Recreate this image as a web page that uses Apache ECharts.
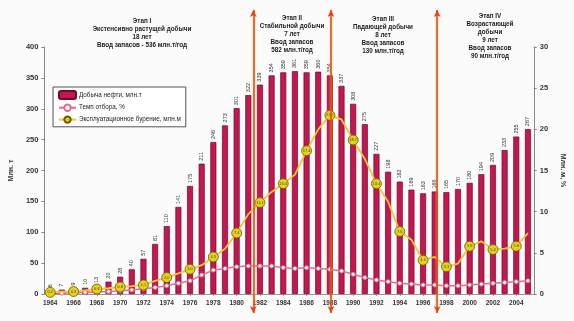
<!DOCTYPE html>
<html>
<head>
<meta charset="utf-8">
<script src="https://cdn.jsdelivr.net/npm/echarts@6/dist/echarts.min.js"></script>
<style>
html,body{margin:0;padding:0;background:#fbfbfb;}
#chart{width:574px;height:321px;}
</style>
</head>
<body>
<div id="chart"></div>
<script>
var years = [];
for (var y = 1964; y <= 2005; y++) years.push(String(y));

var oilProduction = [6, 7, 9, 10, 13, 20, 28, 40, 57, 81, 110, 141, 175, 211, 246, 273, 301, 322, 339, 354, 359, 361, 359, 360, 354, 337, 308, 275, 227, 198, 182, 169, 163, 166, 165, 170, 180, 194, 209, 233, 255, 267];
var extractionRate = [0.05, 0.1, 0.15, 0.2, 0.25, 0.3, 0.4, 0.5, 0.65, 0.8, 1.0, 1.3, 1.6, 2.3, 2.9, 3.1, 3.3, 3.4, 3.4, 3.4, 3.2, 3.1, 3.2, 3.1, 3.0, 2.8, 2.4, 2.0, 1.7, 1.5, 1.3, 1.2, 1.1, 1.1, 1.0, 1.0, 1.1, 1.2, 1.3, 1.4, 1.5, 1.6];
var drilling = [0.2, 0.3, 0.3, 0.45, 0.6, 0.7, 0.85, 0.95, 1.1, 1.6, 2.0, 2.5, 3.0, 3.5, 4.5, 5.5, 7.4, 9.7, 11.1, 12.4, 13.4, 14.5, 17.4, 20.0, 21.7, 21.2, 18.7, 16.4, 13.4, 11.2, 7.6, 6.6, 4.1, 4.5, 3.3, 3.7, 5.8, 6.4, 5.4, 5.5, 5.8, 7.4];
var stageBoundaries = [17.78, 24.14, 32.84]; // category-index positions
var leftTicks = [0, 400, 50];
var rightTicks = [0, 30, 5];

var stageTexts = [
  {x: 142, y: 17, lines: ['Этап I', 'Экстенсивно растущей добычи', '18 лет', 'Ввод запасов - 536 млн.т/год']},
  {x: 292, y: 14, lines: ['Этап II', 'Стабильной добычи', '7 лет', 'Ввод запасов', '582 млн.т/год']},
  {x: 383, y: 15, lines: ['Этап III', 'Падающей добычи', '8 лет', 'Ввод запасов', '130 млн.т/год']},
  {x: 490, y: 12, lines: ['Этап IV', 'Возрастающей', 'добычи', '9 лет', 'Ввод запасов', '90 млн.т/год']}
];

var FONT = 'Liberation Sans, Arial, sans-serif';
var chart = echarts.init(document.getElementById('chart'), null, {renderer: 'canvas'});

var option = {
  backgroundColor: '#fbfbfb',
  animation: false,
  textStyle: {fontFamily: FONT},
  graphic: stageTexts.map(function (s) {
    return {
      type: 'text', x: s.x, y: s.y, z: 100,
      style: {
        text: s.lines.join('\n'),
        align: 'center', verticalAlign: 'top',
        fill: '#222', fontSize: 6.3, fontWeight: 'bold', fontFamily: FONT, lineHeight: 8
      }
    };
  }),
  legend: {
    orient: 'vertical', left: 53, top: 87,
    backgroundColor: '#fff',
    borderColor: '#555', borderWidth: 1, borderRadius: 0,
    padding: [3, 5, 3, 5], itemGap: 3.5,
    itemWidth: 17, itemHeight: 8, itemStyle: {},
    textStyle: {fontSize: 6.3, color: '#222', fontFamily: FONT, padding: [0, 0, 0, -2]},
    data: ['Добыча нефти, млн.т', 'Темп отбора, %', 'Эксплуатационное бурение, млн.м']
  },
  grid: [
    {left: 30, right: 31, top: 47, bottom: 27},
    {left: 30, right: 31, top: 10, bottom: 8}
  ],
  xAxis: [
    {
      type: 'category', data: years, gridIndex: 0,
      axisLine: {lineStyle: {color: '#999'}},
      axisTick: {show: true, alignWithLabel: true, interval: 1, length: 2, lineStyle: {color: '#999'}},
      axisLabel: {interval: 1, fontSize: 6.5, fontWeight: 'bold', color: '#333', margin: 6, fontFamily: FONT}
    },
    {
      type: 'value', gridIndex: 1, min: -0.5, max: 41.5, show: false
    }
  ],
  yAxis: [
    {
      type: 'value', gridIndex: 0, min: leftTicks[0], max: leftTicks[1], interval: leftTicks[2],
      name: 'Млн. т', nameLocation: 'middle', nameGap: 19,
      nameTextStyle: {fontSize: 7, fontWeight: 'bold', color: '#333'},
      axisLine: {show: true, lineStyle: {color: '#888'}},
      axisTick: {show: true, length: 3, lineStyle: {color: '#888'}},
      splitLine: {show: false},
      axisLabel: {fontSize: 7.5, fontWeight: 'bold', color: '#333', margin: 6}
    },
    {
      type: 'value', gridIndex: 0, position: 'right', min: rightTicks[0], max: rightTicks[1], interval: rightTicks[2],
      name: 'Млн. м, %', nameLocation: 'middle', nameGap: 19, nameRotate: -90,
      nameTextStyle: {fontSize: 7, fontWeight: 'bold', color: '#333'},
      axisLine: {show: true, lineStyle: {color: '#888'}},
      axisTick: {show: true, length: 3, lineStyle: {color: '#888'}},
      splitLine: {show: false},
      axisLabel: {fontSize: 7.5, fontWeight: 'bold', color: '#333', margin: 6}
    },
    {
      type: 'value', gridIndex: 1, min: 0, max: 1, show: false
    }
  ],
  series: [
    {
      name: 'Добыча нефти, млн.т', type: 'bar', xAxisIndex: 0, yAxisIndex: 0,
      data: oilProduction, barWidth: 6,
      itemStyle: {color: '#c2184f', borderColor: '#6e0a2a', borderWidth: 0.7},
      label: {
        show: true, position: 'top', rotate: 90, align: 'left', verticalAlign: 'middle',
        distance: 3, fontSize: 5.5, color: '#333', fontFamily: FONT
      },
      z: 2
    },
    {
      name: 'Темп отбора, %', type: 'line', xAxisIndex: 0, yAxisIndex: 1,
      data: extractionRate,
      lineStyle: {color: '#e26b8c', width: 1.5},
      symbol: 'circle', symbolSize: 4,
      itemStyle: {color: '#fff', borderColor: '#e26b8c', borderWidth: 1},
      z: 3
    },
    {
      name: 'Эксплуатационное бурение, млн.м', type: 'line', xAxisIndex: 0, yAxisIndex: 1,
      data: drilling,
      lineStyle: {color: '#f2c437', width: 1.8},
      symbol: 'circle', symbolSize: 10,
      itemStyle: {color: '#e3d11d', borderColor: '#6b5a00', borderWidth: 0.8},
      label: {
        show: true, position: 'inside', fontSize: 4, color: '#444',
        formatter: function (p) { return p.value.toFixed(1); }
      },
      z: 4
    },
    {
      name: 'stages', type: 'line', xAxisIndex: 1, yAxisIndex: 2,
      data: [], silent: true,
      markLine: {
        silent: true, symbol: ['arrow', 'arrow'], symbolSize: [5, 7],
        label: {show: false},
        lineStyle: {color: '#e8401c', width: 1.5, type: 'solid', shadowColor: 'rgba(245,190,40,0.9)', shadowBlur: 2},
        data: stageBoundaries.map(function (v) { return {xAxis: v}; })
      },
      z: 10
    }
  ]
};
chart.setOption(option);
</script>
</body>
</html>
